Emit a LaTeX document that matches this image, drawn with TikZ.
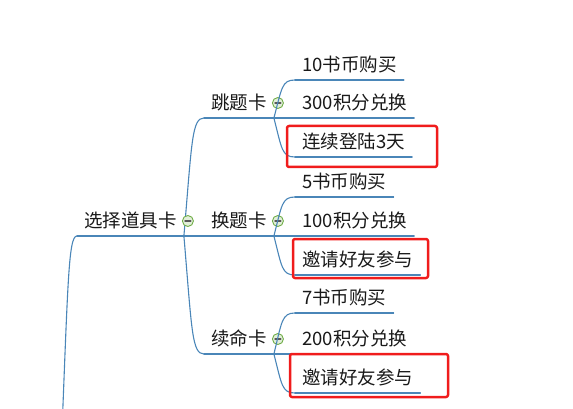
\documentclass[tikz,border=0pt]{standalone}
\usepackage{fontspec}
\newfontfamily\cjk{Noto Sans CJK SC}
\usetikzlibrary{calc}
\definecolor{linkblue}{RGB}{74,134,184}
\definecolor{foldgreen}{RGB}{112,173,71}
\definecolor{markred}{RGB}{240,28,28}
\begin{document}
\begin{tikzpicture}[line cap=round, line join=round, x=1pt, y=-1pt, font=\cjk\fontsize{18.5}{20}\selectfont]
	\tikzset{topic/.style={anchor=south west, inner xsep=7, inner ysep=0, text height=14pt, text depth=8pt, text=black!90},
		uline/.style={draw=linkblue, line width=1.1pt},
		link/.style={uline, to path={.. controls ($(\tikztostart)!0.8!(\tikztostart |- \tikztotarget)+(8,0)$) and ($(\tikztostart |- \tikztotarget)+(8,0)$) .. (\tikztotarget)}},
		fold/.style={circle, draw=foldgreen, fill=foldgreen!20, line width=0.9pt, minimum size=11pt, inner sep=0,
			path picture={\draw[black!65, line width=1.1pt] ($(path picture bounding box.center)+(-3,0)$)--($(path picture bounding box.center)+(3,0)$);}},
		markbox/.style={draw=markred, line width=2.5pt, rounded corners=2pt}}
	\useasboundingbox (0,0) rectangle (573,409);
	\clip (0,0) rectangle (573,409);
	\path (60,480) coordinate (root);
	\node[topic] (main) at (77,236) {选择道具卡};
	\node[topic] (t) at (204,118) {跳题卡};
	\node[topic] (h) at (204,236) {换题卡};
	\node[topic] (x) at (204,354) {续命卡};
	\draw[link] (root) to (main.south west);
	\draw[uline] (main.south west)--(main.south east);
	\foreach \n in {t,h,x} {
		\draw[link] (main.south east) to (\n.south west);
		\draw[uline] (\n.south west)--(\n.south east);
		\node[fold] (f\n) at ($(\n.south east)+(4,-15)$) {};
	}
	\node[fold] (fmain) at ($(main.south east)+(4,-15)$) {};
	\foreach \n/\p/\y/\t in {t1/t/80/10书币购买, t2/t/118/300积分兑换, t3/t/157/连续登陆3天,
		h1/h/197/5书币购买, h2/h/236/100积分兑换, h3/h/275/邀请好友参与,
		x1/x/313/7书币购买, x2/x/354/200积分兑换, x3/x/393/邀请好友参与} {
		\node[topic] (\n) at (295,\y) {\t};
		\draw[link] (\p.south east) to (\n.south west);
		\draw[uline] (\n.south west)--(\n.south east);
	}
	\draw[markbox] (287,126) rectangle (437,167)
	(293,239) rectangle (428,278)
	(290,354) rectangle (448,397);
\end{tikzpicture}
\end{document}
